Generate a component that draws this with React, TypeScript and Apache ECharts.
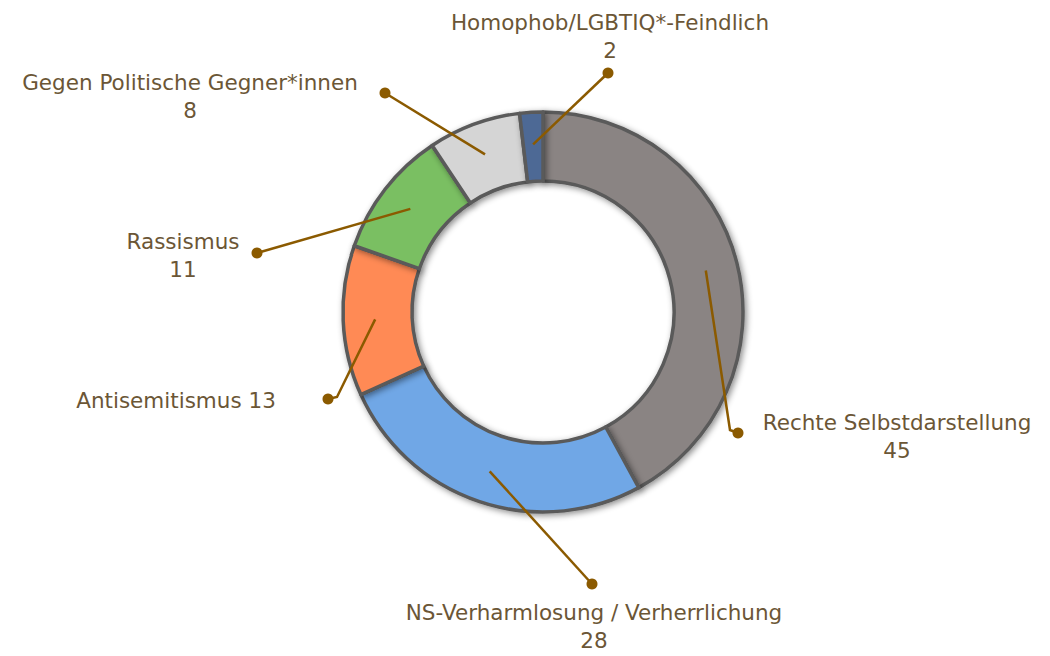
import React, { useEffect, useRef } from "react";
import * as echarts from "echarts";

const categories = [
  "Rechte Selbstdarstellung",
  "NS-Verharmlosung / Verherrlichung",
  "Antisemitismus",
  "Rassismus",
  "Gegen Politische Gegner*innen",
  "Homophob/LGBTIQ*-Feindlich",
];
const values = [45, 28, 13, 11, 8, 2];
const colors = ["#8a8483", "#6fa7e6", "#ff8a55", "#7abf62", "#d5d5d5", "#4d6995"];
const inlineLabel = [false, false, true, false, false, false];

// layout (not data): label anchor, bend point and dot position for each slice
const labelAnchor: [number, number][] = [
  [897, 436], [594, 626], [176, 400], [183, 255], [190, 96], [610, 36],
];
const dotPos: [number, number][] = [
  [738, 433], [592, 584], [328, 399], [257, 253], [385, 93], [608, 73],
];
const bendPos: ([number, number] | null)[] = [
  [730, 430], null, [337, 397], null, null, null,
];

const CX = 543;
const CY = 312;
const R_IN = 131;
const R_OUT = 200;
const R_LINE = 168;
const LINE_COLOR = "#8b5a00";
const TEXT_COLOR = "#6b5636";

export default function App() {
  const ref = useRef<HTMLDivElement>(null);
  useEffect(() => {
    if (!ref.current) return;
    const chart = echarts.init(ref.current, null, { renderer: "svg" });
    const total = values.reduce((a, b) => a + b, 0);
    const mids: number[] = [];
    let acc = 0;
    values.forEach((v) => {
      mids.push(((acc + v / 2) / total) * Math.PI * 2);
      acc += v;
    });
    const innerPt = (i: number): [number, number] => [
      CX + R_LINE * Math.sin(mids[i]),
      CY - R_LINE * Math.cos(mids[i]),
    ];
    const lines = values.map((_, i) => {
      const a = innerPt(i);
      const d = dotPos[i];
      const pts = bendPos[i] ? [a, bendPos[i] as [number, number], d] : [a, d];
      return {
        type: "polyline",
        shape: { points: pts },
        style: { stroke: LINE_COLOR, lineWidth: 2.5, fill: null },
        z: 100,
      };
    });
    const dots = dotPos.map((p) => ({
      type: "circle",
      shape: { cx: p[0], cy: p[1], r: 5.5 },
      style: { fill: LINE_COLOR },
      z: 101,
    }));
    chart.setOption({
      animation: false,
      backgroundColor: "#ffffff",
      graphic: [...lines, ...dots],
      series: [
        {
          type: "pie",
          center: [CX, CY],
          radius: [R_IN, R_OUT],
          startAngle: 90,
          clockwise: true,
          avoidLabelOverlap: false,
          itemStyle: {
            borderColor: "#5a5a5a",
            borderWidth: 3.5,
            shadowBlur: 6,
            shadowColor: "rgba(0,0,0,0.45)",
            shadowOffsetX: 2,
            shadowOffsetY: 2,
          },
          emphasis: { disabled: true },
          label: {
            show: true,
            position: "outside",
            color: TEXT_COLOR,
            fontFamily: "DejaVu Sans",
            fontSize: 21.5,
            lineHeight: 28,
            align: "center",
            formatter: (p: any) =>
              inlineLabel[p.dataIndex] ? `${p.name} ${p.value}` : `${p.name}\n${p.value}`,
          },
          labelLine: { show: false },
          labelLayout: (params: any) => {
            const i = params.dataIndex;
            return {
              x: labelAnchor[i][0],
              y: labelAnchor[i][1],
              align: "center",
              verticalAlign: "middle",
            };
          },
          data: categories.map((name, i) => ({
            name,
            value: values[i],
            itemStyle: { color: colors[i] },
          })),
        },
      ],
    });
    return () => chart.dispose();
  }, []);
  return (
    <div
      ref={ref}
      style={{ position: "absolute", left: 0, top: 0, width: 1050, height: 656 }}
    />
  );
}
